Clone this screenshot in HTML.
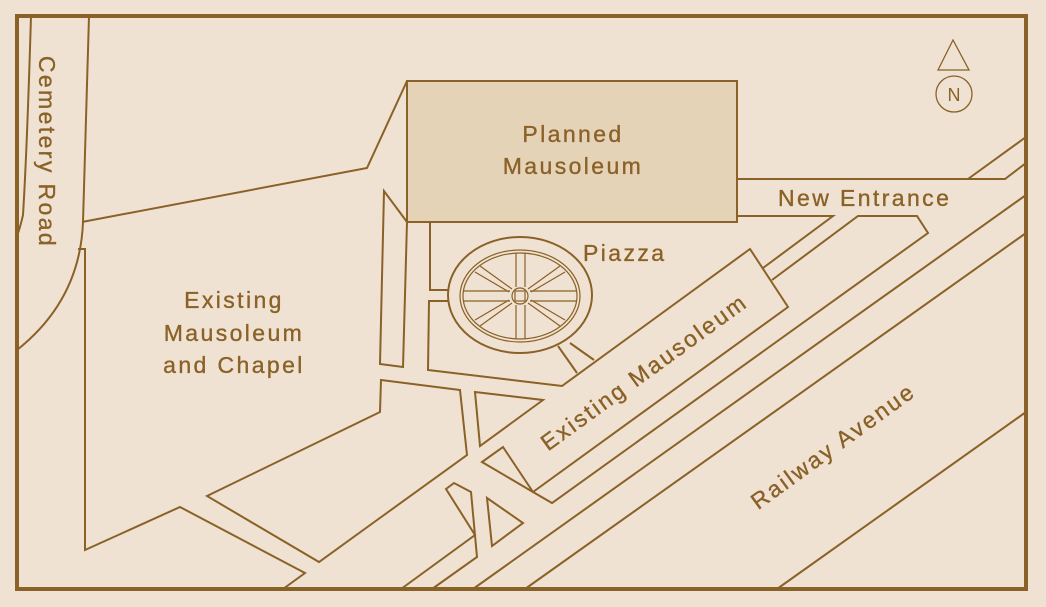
<!DOCTYPE html>
<html><head><meta charset="utf-8"><style>
html,body{margin:0;padding:0;background:#f0e2d2;}
svg{display:block}
text{font-family:"Liberation Sans",sans-serif;fill:#8a6127;font-size:23px;letter-spacing:2.4px;stroke:#8a6127;stroke-width:0.35}
</style></head><body>
<svg width="1046" height="607" viewBox="0 0 1046 607" xmlns="http://www.w3.org/2000/svg">
<rect width="1046" height="607" fill="#f0e2d2"/>
<g fill="none" stroke="#8a6127" stroke-width="2" stroke-linejoin="miter">
<path d="M31 16 Q27 150 23 215 Q20 228 17 236"/>
<path d="M89 16 L83 222 Q80 300 17 350"/>
<polyline points="82,222 367,168 407,81"/>
<rect x="407" y="81" width="330" height="141" fill="#e5d3b8"/>
<polygon points="384,191 380,364 403,367 407,222"/>
<polyline points="78,249 85,249 85,550 180,507 305,573 283,589"/>
<polygon points="207,496 380,412 381,380 460,390 467,455 319,562"/>
<polyline points="430,222 430,290 449,290"/>
<polyline points="449,301 429,301 428,370 562,386 750,249 788,307 533,492 552,503 928,233 917,216 858,216 772,280"/>
<polyline points="763,268 833,216 737,216"/>
<line x1="558" y1="346" x2="577" y2="373"/>
<line x1="570" y1="343" x2="594" y2="360"/>
<polygon points="475,392 543,400 480,446"/>
<polygon points="482,462 503,447 533,492"/>
<polyline points="737,179 1005,179 1026,163"/>
<line x1="968" y1="179" x2="1026" y2="137"/>
<line x1="473" y1="589" x2="1026" y2="195"/>
<line x1="525" y1="589" x2="1026" y2="233"/>
<line x1="777" y1="589" x2="1026" y2="412"/>
<polyline points="401,589 475,535 446,489 454,483 471,492 477,557 432,589"/>
<polygon points="487,498 523,523 492,546"/>
<ellipse cx="520" cy="295" rx="72" ry="58"/>
</g>
<g fill="none" stroke="#8a6127" stroke-width="1.2">
<ellipse cx="520" cy="296" rx="60" ry="46"/>
<ellipse cx="520" cy="296" rx="57" ry="43"/>
<circle cx="520" cy="296" r="8"/>
<rect x="515" y="291" width="10" height="10"/>
<line x1="463" y1="291" x2="510" y2="291"/><line x1="463" y1="301" x2="510" y2="301"/>
<line x1="530" y1="291" x2="577" y2="291"/><line x1="530" y1="301" x2="577" y2="301"/>
<line x1="516" y1="253" x2="516" y2="287"/><line x1="525" y1="253" x2="525" y2="287"/>
<line x1="516" y1="305" x2="516" y2="339"/><line x1="525" y1="305" x2="525" y2="339"/>
<line x1="480" y1="266" x2="512" y2="289"/><line x1="475" y1="272" x2="509" y2="292"/>
<line x1="560" y1="266" x2="528" y2="289"/><line x1="565" y1="272" x2="531" y2="292"/>
<line x1="480" y1="326" x2="512" y2="303"/><line x1="475" y1="320" x2="509" y2="300"/>
<line x1="560" y1="326" x2="528" y2="303"/><line x1="565" y1="320" x2="531" y2="300"/>
</g>
<rect x="17" y="16" width="1009" height="573" fill="none" stroke="#8a6127" stroke-width="4"/>
<polygon points="938,70 953,40 969,70" fill="none" stroke="#8a6127" stroke-width="1.3"/>
<circle cx="954" cy="94" r="18" fill="none" stroke="#8a6127" stroke-width="1.3"/>
<text x="954" y="101" text-anchor="middle" style="font-size:18px;letter-spacing:0;stroke-width:0">N</text>
<text x="573" y="142" text-anchor="middle">Planned</text>
<text x="573" y="174" text-anchor="middle">Mausoleum</text>
<text x="583" y="261">Piazza</text>
<text x="778" y="206">New Entrance</text>
<text x="234" y="308" text-anchor="middle">Existing</text>
<text x="234" y="341" text-anchor="middle">Mausoleum</text>
<text x="234" y="373" text-anchor="middle">and Chapel</text>
<text transform="translate(644,372) rotate(-36)" text-anchor="middle" y="8">Existing Mausoleum</text>
<text transform="translate(833,446) rotate(-36)" text-anchor="middle" y="8">Railway Avenue</text>
<text transform="translate(47,152) rotate(90)" text-anchor="middle" y="8">Cemetery Road</text>
</svg>
</body></html>
